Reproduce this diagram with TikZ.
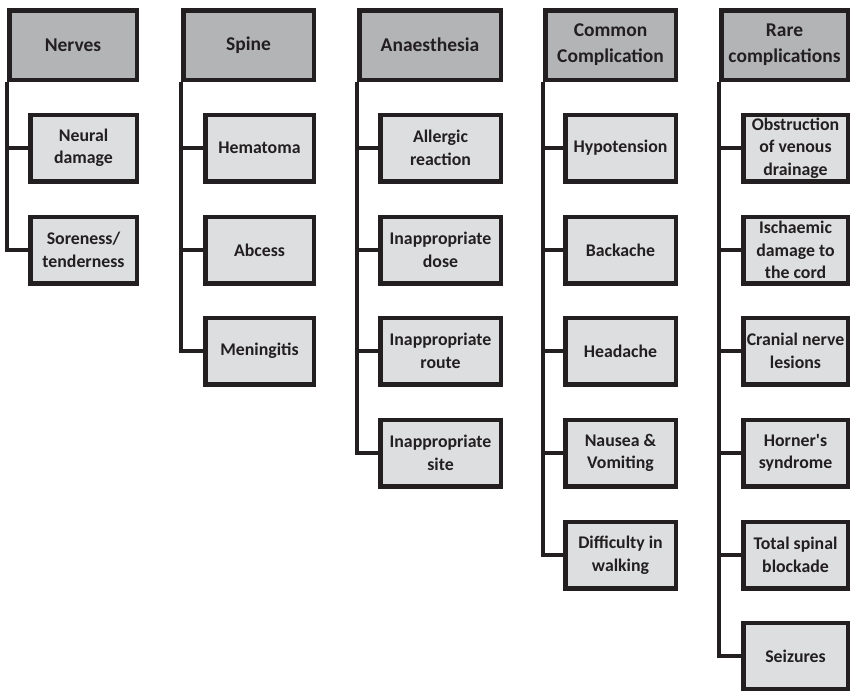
\documentclass[tikz,border=0pt]{standalone}
\usepackage{fontspec}
\setmainfont{Carlito}
\definecolor{bord}{HTML}{231F20}
\definecolor{headfill}{HTML}{B3B4B6}
\definecolor{childfill}{HTML}{DDDEE0}
\tikzset{
  hbox/.style={draw=bord, line width=4.5pt, fill=headfill, text=bord, align=center,
    inner sep=0pt, minimum height=69.5pt, font=\bfseries\fontsize{19.5}{26}\selectfont},
  cbox/.style={draw=bord, line width=4.5pt, fill=childfill, text=bord, align=center,
    inner sep=0pt, minimum height=66.5pt, font=\bfseries\fontsize{17.8}{22.5}\selectfont},
  conn/.style={draw=bord, line width=3.5pt}
}
\begin{document}
\begin{tikzpicture}[x=1pt,y=-1pt]
\useasboundingbox (0,0) rectangle (852,691);
% Headers
\node[hbox, minimum width=127.5pt] (hN) at (73,45) {Nerves};
\node[hbox, minimum width=130.5pt] (hS) at (248.5,45) {Spine};
\node[hbox, minimum width=141.5pt] (hA) at (430,45) {Anaesthesia};
\node[hbox, minimum width=130.5pt] (hC) at (610.5,45) {Common\\Complication};
\node[hbox, minimum width=126.5pt] (hR) at (784.5,45) {Rare\\complications};
% Nerves
\node[cbox, minimum width=106.5pt] (n1) at (83.5,148) {Neural\\damage};
\node[cbox, minimum width=106.5pt] (n2) at (83.5,250) {Soreness/\\tenderness};
% Spine
\node[cbox, minimum width=108.5pt] (s1) at (259.5,148) {Hematoma};
\node[cbox, minimum width=108.5pt] (s2) at (259.5,250) {Abcess};
\node[cbox, minimum width=108.5pt] (s3) at (259.5,351) {Meningitis};
% Anaesthesia
\node[cbox, minimum width=120.5pt] (a1) at (440.5,148) {Allergic\\reaction};
\node[cbox, minimum width=120.5pt] (a2) at (440.5,250) {Inappropriate\\dose};
\node[cbox, minimum width=120.5pt] (a3) at (440.5,351) {Inappropriate\\route};
\node[cbox, minimum width=120.5pt] (a4) at (440.5,453) {Inappropriate\\site};
% Common
\node[cbox, minimum width=110.5pt] (c1) at (620.5,148) {Hypotension};
\node[cbox, minimum width=110.5pt] (c2) at (620.5,250) {Backache};
\node[cbox, minimum width=110.5pt] (c3) at (620.5,351) {Headache};
\node[cbox, minimum width=110.5pt] (c4) at (620.5,453) {Nausea \&\\Vomiting};
\node[cbox, minimum width=110.5pt] (c5) at (620.5,555) {Difficulty in\\walking};
% Rare
\node[cbox, minimum width=104.5pt] (r1) at (795.5,148) {Obstruction\\of venous\\drainage};
\node[cbox, minimum width=104.5pt] (r2) at (795.5,250) {Ischaemic\\damage to\\the cord};
\node[cbox, minimum width=104.5pt] (r3) at (795.5,351) {Cranial nerve\\lesions};
\node[cbox, minimum width=104.5pt] (r4) at (795.5,453) {Horner\textquotesingle s\\syndrome};
\node[cbox, minimum width=104.5pt] (r5) at (795.5,555) {Total spinal\\blockade};
\node[cbox, minimum width=104.5pt] (r6) at (795.5,656) {Seizures};
% Connectors
\foreach \c in {n1,n2} \draw[conn] (hN.south west) |- (\c.west);
\foreach \c in {s1,s2,s3} \draw[conn] (hS.south west) |- (\c.west);
\foreach \c in {a1,a2,a3,a4} \draw[conn] (hA.south west) |- (\c.west);
\foreach \c in {c1,c2,c3,c4,c5} \draw[conn] (hC.south west) |- (\c.west);
\foreach \c in {r1,r2,r3,r4,r5,r6} \draw[conn] (hR.south west) |- (\c.west);
\end{tikzpicture}
\end{document}
